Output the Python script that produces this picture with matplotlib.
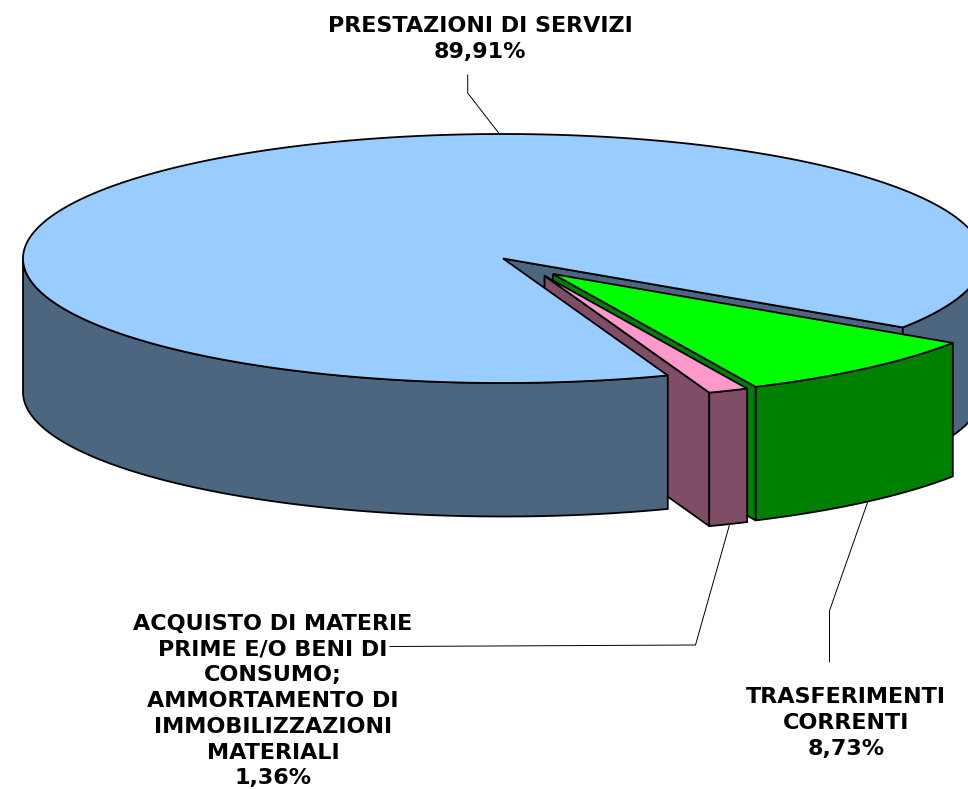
import numpy as np
import matplotlib
matplotlib.use("Agg")
import matplotlib.pyplot as plt
from matplotlib.patches import Polygon

# ---- data ----
categories = ["PRESTAZIONI DI SERVIZI", "TRASFERIMENTI\nCORRENTI",
              "ACQUISTO DI MATERIE\nPRIME E/O BENI DI\nCONSUMO;\nAMMORTAMENTO DI\nIMMOBILIZZAZIONI\nMATERIALI"]
values = [89.91, 8.73, 1.36]

# ---- styling / geometry ----
top_colors = ["#99CCFF", "#00FF00", "#FF99CC"]
side_colors = ["#4D6680", "#008000", "#804D66"]
apex = [(503.0, 258.5), (553.0, 274.0), (544.5, 275.7)]
label_xy = [(480, 39), (846, 723), (273, 701)]
leaders = [[(467.7, 75), (467.7, 93), (498.7, 133)],
           [(868, 501), (829.5, 610.7), (829.5, 661.7)],
           [(730, 523), (695.5, 645), (390, 646.5)]]
RX, RY, DEPTH = 480.0, 124.5, 133.5
START = 33.6   # screen-clockwise angle where the green slice begins
EDGE = 1.3

fig = plt.figure(figsize=(9.68, 7.89), dpi=100, facecolor="white")
ax = fig.add_axes([0, 0, 1, 1])
ax.set_xlim(0, 968)
ax.set_ylim(789, 0)
ax.axis("off")


def rim(c, a0, a1, n=200):
    t = np.radians(np.linspace(a0, a1, n))
    return np.column_stack([c[0] + RX * np.cos(t), c[1] + RY * np.sin(t)])


def poly(pts, color, z):
    ax.add_patch(Polygon(pts, closed=True, facecolor=color, edgecolor="black",
                         linewidth=EDGE, joinstyle="miter", zorder=z))


def down(pts):
    return pts + np.array([0, DEPTH])


def outer_wall(c, a0, a1, color, z):
    r = rim(c, a0, a1)
    poly(np.vstack([r, down(r)[::-1]]), color, z)


def cut_face(c, a, color, z):
    r = rim(c, a, a, 2)[:1]
    c = np.array([c])
    poly(np.vstack([c, r, down(r), down(c)]), color, z)


# Angular extents derived from the values (clockwise on screen)
sweeps = [v / sum(values) * 360 for v in values]
a_green0 = START
a_green1 = a_green0 + sweeps[1]
a_pink1 = a_green1 + sweeps[2]
a_main0 = a_pink1
a_main1 = a_main0 + sweeps[0]

# Rear parts of the main slice
cut_face(apex[0], a_main1, side_colors[0], 1)
outer_wall(apex[0], 360, a_main1, side_colors[0], 1)

# Green slice
outer_wall(apex[1], a_green0, a_green1, side_colors[1], 2)
cut_face(apex[1], a_green1, side_colors[1], 2)
poly(np.vstack([[apex[1]], rim(apex[1], a_green0, a_green1)]), top_colors[1], 3)

# Pink slice
cut_face(apex[2], a_pink1, side_colors[2], 4)
outer_wall(apex[2], a_green1, a_pink1, side_colors[2], 4)
poly(np.vstack([[apex[2]], rim(apex[2], a_green1, a_pink1)]), top_colors[2], 5)

# Front parts of the main slice, which hide the pink cut face
outer_wall(apex[0], a_main0, 180, side_colors[0], 6)
poly(np.vstack([[apex[0]], rim(apex[0], a_main0, a_main1, 600)]), top_colors[0], 7)

# Leader lines
for pts in leaders:
    xs, ys = zip(*pts)
    ax.plot(xs, ys, color="black", lw=0.7, zorder=0.5 if pts[0][1] > 200 else 8,
            solid_joinstyle="miter")

# Labels
for name, v, (x, y) in zip(categories, values, label_xy):
    txt = f"{name}\n{v:.2f}%".replace(".", ",")
    ax.text(x, y, txt, ha="center", va="center", fontsize=16, fontweight="bold",
            family="DejaVu Sans", color="black", linespacing=1.36, zorder=10)

fig.savefig("out.png", dpi=100, facecolor="white")
